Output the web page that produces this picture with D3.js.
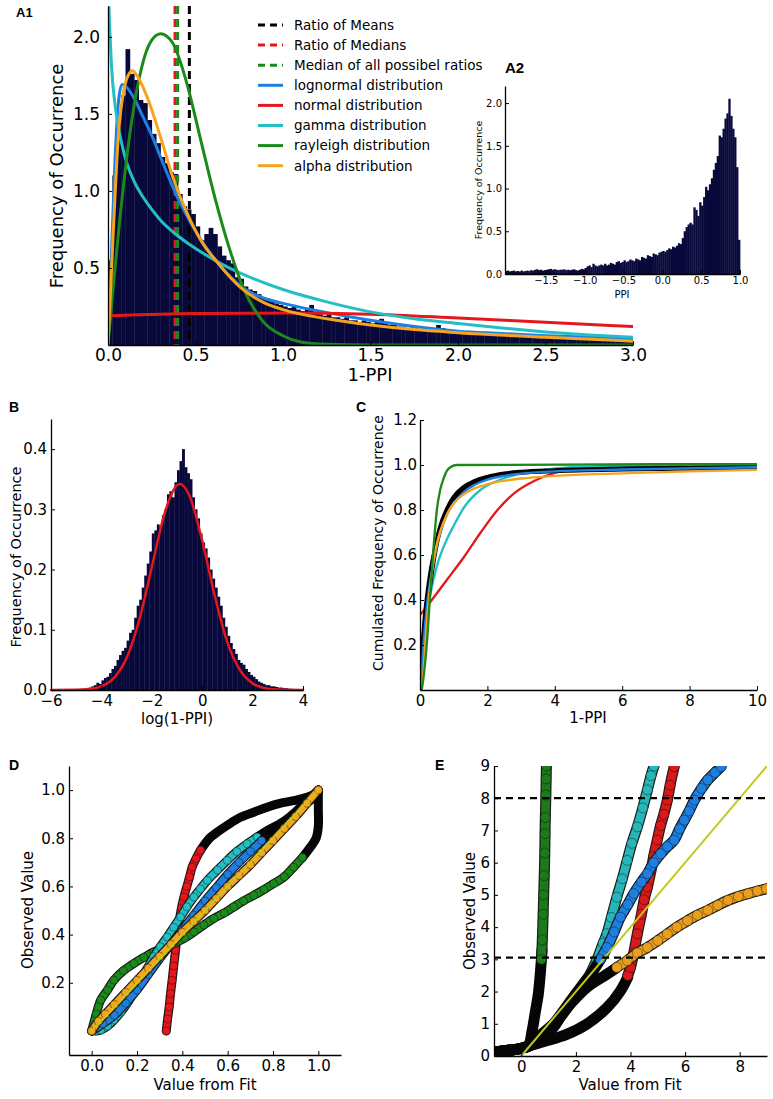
<!DOCTYPE html>
<html>
<head>
<meta charset="utf-8">
<script src="https://cdn.jsdelivr.net/npm/d3@7"></script>
<style>
body{margin:0;background:#fff;}
svg text{font-family:"DejaVu Sans",sans-serif;fill:#000;}
.plabel{font-family:"Liberation Sans",Arial,sans-serif;font-weight:bold;}
</style>
</head>
<body>
<svg id="fig" width="773" height="1099"></svg>
<script>
// ---------- panel A1 : histogram of 1-PPI with fitted pdfs ----------
let a1BinWidth = 0.025;
let a1Hist = [
 0.55,1.1,1.45,1.62,1.92,1.76,1.72,1.59,1.57,1.46,
 1.37,1.31,1.22,1.18,1.12,1.11,0.98,0.9,0.88,0.85,
 0.77,0.68,0.72,0.76,0.72,0.64,0.58,0.55,0.53,0.44,
 0.43,0.38,0.36,0.35,0.33,0.31,0.3,0.29,0.27,0.26,
 0.25,0.24,0.26,0.23,0.22,0.24,0.26,0.21,
 0.2,0.19,0.2,0.18,0.18,0.17,0.18,0.16,
 0.16,0.15,0.16,0.15,0.14,0.16,0.17,0.14,
 0.13,0.13,0.12,0.12,0.11,0.115,0.11,0.1,
 0.1,0.095,0.1,0.13,0.11,0.09,0.085,0.085,
 0.08,0.08,0.075,0.075,0.07,0.07,0.065,0.065,
 0.06,0.065,0.06,0.058,0.072,0.07,0.055,0.055,
 0.05,0.052,0.05,0.048,0.048,0.062,0.065,0.045,
 0.042,0.042,0.04,0.04,0.038,0.04,0.036,0.035,
 0.034,0.035,0.033,0.03,0.03,0.028,0.03,0.027];
let a1Lognormal = [[0,0],[0.02,0.6],[0.04,1.2],[0.06,1.58],[0.08,1.69],[0.1,1.68],[0.15,1.6],[0.2,1.48],[0.25,1.36],[0.3,1.22],[0.35,1.08],[0.4,0.95],[0.45,0.84],[0.5,0.74],[0.6,0.57],[0.7,0.44],[0.8,0.35],[0.9,0.3],[1.0,0.27],[1.25,0.21],[1.5,0.16],[1.75,0.12],[2.0,0.09],[2.25,0.075],[2.5,0.06],[2.75,0.05],[3.0,0.04]];
let a1Normal = [[0.02,0.19],[0.5,0.205],[1.0,0.207],[1.5,0.2],[2.0,0.175],[2.5,0.147],[3.0,0.12]];
let a1Gamma = [[0.002,2.3],[0.01,2.05],[0.02,1.81],[0.04,1.56],[0.06,1.41],[0.08,1.3],[0.1,1.21],[0.15,1.06],[0.2,0.96],[0.25,0.88],[0.3,0.81],[0.37,0.735],[0.45,0.665],[0.55,0.59],[0.65,0.525],[0.8,0.445],[1.0,0.36],[1.25,0.28],[1.5,0.215],[1.75,0.17],[2.0,0.14],[2.25,0.11],[2.5,0.085],[2.75,0.065],[3.0,0.05]];
let a1Rayleigh = [[0,0],[0.03,0.38],[0.06,0.73],[0.12,1.33],[0.18,1.74],[0.24,1.96],[0.3,2.02],[0.37,1.96],[0.45,1.7],[0.53,1.33],[0.61,0.96],[0.69,0.64],[0.77,0.38],[0.88,0.16],[1.0,0.06],[1.1,0.02],[1.25,0.005],[1.5,0],[3.0,0]];
let a1Alpha = [[0,0],[0.03,0.73],[0.06,1.37],[0.09,1.65],[0.12,1.76],[0.14,1.78],[0.17,1.74],[0.22,1.62],[0.3,1.35],[0.37,1.09],[0.45,0.86],[0.53,0.68],[0.63,0.53],[0.76,0.37],[0.9,0.27],[1.0,0.23],[1.25,0.17],[1.5,0.13],[1.75,0.1],[2.0,0.08],[2.5,0.05],[3.0,0.025]];
let a1Ratios = [0.465, 0.383, 0.398];   // means, medians, median of all ratios
let a1Legend = ["Ratio of Means","Ratio of Medians","Median of all possibel ratios","lognormal distribution","normal distribution","gamma distribution","rayleigh distribution","alpha distribution"];
let a1XTicks = [0,0.5,1,1.5,2,2.5,3];
let a1YTicks = [0.5,1,1.5,2];

// ---------- panel A2 : histogram of PPI ----------
let a2BinStart = -2.025, a2BinWidth = 0.025;
let a2Hist = [
 0.035,0.04,0.03,0.035,0.04,0.03,0.035,0.03,0.04,0.03,0.035,0.04,0.035,0.045,0.04,0.05,0.055,0.045,0.05,0.04,
 0.045,0.05,0.055,0.06,0.05,0.055,0.05,0.045,0.05,0.05,0.055,0.045,0.05,0.045,0.05,0.055,0.045,0.04,0.05,0.06,0.055,
 0.07,0.09,0.1,0.08,0.12,0.1,0.09,0.1,0.11,0.1,0.12,0.1,0.11,0.13,0.12,0.11,0.14,0.15,0.13,0.14,
 0.16,0.14,0.15,0.17,0.16,0.15,0.18,0.17,0.16,0.2,0.19,0.18,0.22,0.21,0.2,0.24,0.23,0.22,0.25,0.26,
 0.27,0.26,0.28,0.3,0.29,0.32,0.31,0.33,0.36,0.35,0.42,0.5,0.55,0.58,0.6,0.58,0.78,0.75,0.68,0.84,
 0.8,0.9,1.02,0.98,1.05,1.12,1.22,1.3,1.38,1.62,1.6,1.7,1.82,1.88,2.05,1.85,1.7,1.6,1.25,0.4];
let a2XTicks = [-1.5,-1,-0.5,0,0.5,1];
let a2YTicks = [0,0.5,1,1.5,2];

// ---------- panel B : histogram of log(1-PPI) ----------
let bBinStart = -5.0, bBinWidth = 0.1;
let bHist = [
 0.001,0.001,0.002,0.002,0.003,0.004,0.006,0.008,0.012,0.01,
 0.016,0.02,0.022,0.028,0.035,0.04,0.05,0.058,0.065,0.07,
 0.082,0.095,0.1,0.12,0.14,0.15,0.17,0.19,0.21,0.23,
 0.26,0.265,0.275,0.27,0.29,0.3,0.325,0.33,0.32,0.345,
 0.365,0.38,0.4,0.37,0.36,0.35,0.32,0.3,0.285,0.26,
 0.245,0.235,0.22,0.2,0.185,0.17,0.155,0.14,0.12,0.105,
 0.09,0.078,0.068,0.06,0.05,0.045,0.042,0.035,0.03,0.025,
 0.022,0.018,0.014,0.012,0.01,0.008,0.008,0.006,0.006,0.005,
 0.004,0.004,0.003,0.003,0.002,0.002];
let bNormal = [[-6,0],[-5,0.0003],[-4.5,0.0015],[-4,0.006],[-3.5,0.02],[-3,0.053],[-2.5,0.116],[-2,0.204],[-1.5,0.292],[-1,0.34],[-0.88,0.342],[-0.5,0.322],[0,0.248],[0.5,0.156],[1,0.079],[1.5,0.033],[2,0.011],[2.5,0.003],[3,0.0007],[4,0]];
let bXTicks = [-6,-4,-2,0,2,4];
let bYTicks = [0,0.1,0.2,0.3,0.4];

// ---------- panel C : cumulative distributions ----------
let cEmpirical = [[0,0],[0.05,0.1],[0.1,0.2],[0.2,0.36],[0.3,0.48],[0.4,0.58],[0.5,0.66],[0.6,0.72],[0.8,0.8],[1.0,0.855],[1.3,0.9],[1.6,0.925],[2.0,0.945],[2.5,0.96],[3,0.968],[4,0.975],[6,0.982],[8,0.986],[10,0.988]];
let cHistCum = [[0,0.08],[0.05,0.2],[0.1,0.3],[0.2,0.44],[0.3,0.54],[0.5,0.67],[0.8,0.79],[1.0,0.84],[1.5,0.91],[2,0.94],[3,0.965],[10,0.99]];
let cLognormal = [[0,0],[0.05,0.08],[0.1,0.2],[0.2,0.37],[0.3,0.48],[0.5,0.64],[0.8,0.78],[1.0,0.83],[1.3,0.88],[1.6,0.91],[2,0.935],[2.5,0.952],[3,0.962],[4,0.972],[6,0.98],[10,0.99]];
let cNormal = [[0,0.333],[0.2,0.37],[0.4,0.41],[0.8,0.49],[1.3,0.59],[1.8,0.7],[2.3,0.8],[2.8,0.875],[3.4,0.93],[4,0.965],[4.75,0.985],[5.5,0.995],[7,1.0],[10,1.0]];
let cGamma = [[0,0.02],[0.1,0.22],[0.2,0.33],[0.3,0.42],[0.5,0.55],[0.8,0.67],[1.0,0.73],[1.3,0.81],[1.8,0.89],[2.3,0.93],[2.8,0.955],[3.5,0.975],[4.5,0.99],[6,0.995],[10,1.0]];
let cRayleigh = [[0.05,0],[0.1,0.05],[0.2,0.2],[0.3,0.42],[0.4,0.63],[0.5,0.8],[0.6,0.89],[0.7,0.94],[0.8,0.975],[0.9,0.99],[1.1,1.0],[10,1.004]];
let cAlpha = [[0.05,0],[0.1,0.08],[0.2,0.3],[0.3,0.46],[0.4,0.57],[0.5,0.65],[0.8,0.78],[1.0,0.83],[1.3,0.87],[1.6,0.895],[2,0.915],[2.5,0.93],[3,0.94],[4,0.952],[6,0.963],[8,0.972],[10,0.978]];
let cXTicks = [0,2,4,6,8,10];
let cYTicks = [0.2,0.4,0.6,0.8,1.0,1.2];

// ---------- panel D : QQ plot, full range ----------
let dRayleigh = [[0,0],[0.02,0.07],[0.04,0.128],[0.07,0.17],[0.098,0.211],[0.14,0.25],[0.186,0.28],[0.23,0.305],[0.274,0.328],[0.32,0.345],[0.363,0.363],[0.41,0.385],[0.451,0.411],[0.495,0.44],[0.539,0.467],[0.585,0.49],[0.627,0.515],[0.67,0.54],[0.715,0.563],[0.76,0.587],[0.803,0.612],[0.85,0.64],[0.891,0.68],[0.93,0.72]];
let dRayleighDense = [[0.93,0.72],[0.965,0.763],[0.99,0.8],[1.0,0.85],[1.0,0.92],[1.0,1.0]];
let dNormal = [[0.329,0.0],[0.335,0.05],[0.342,0.1],[0.348,0.155],[0.355,0.21],[0.362,0.27],[0.37,0.335],[0.377,0.4],[0.386,0.455],[0.396,0.51],[0.407,0.556],[0.42,0.6],[0.432,0.64],[0.443,0.68],[0.46,0.715],[0.48,0.75]];
let dNormalDense = [[0.48,0.75],[0.52,0.8],[0.554,0.825],[0.6,0.855],[0.656,0.887],[0.72,0.91],[0.774,0.929],[0.83,0.945],[0.891,0.956],[0.95,0.97],[1.0,0.99]];
let dGamma = [[0,0],[0.02,0.0],[0.04,0.004],[0.07,0.02],[0.098,0.045],[0.13,0.08],[0.157,0.115],[0.186,0.16],[0.216,0.211],[0.245,0.26],[0.274,0.308],[0.303,0.35],[0.333,0.39],[0.362,0.43],[0.392,0.473],[0.42,0.515],[0.451,0.556],[0.48,0.59],[0.51,0.625],[0.555,0.668],[0.598,0.708],[0.64,0.745],[0.686,0.777],[0.73,0.805]];
let dGammaDense = [[0.73,0.805],[0.774,0.832],[0.83,0.86],[0.877,0.887],[0.93,0.93],[0.979,0.97],[1.0,1.0]];
let dLognormal = [[0,0],[0.05,0.03],[0.1,0.065],[0.15,0.115],[0.2,0.17],[0.25,0.235],[0.3,0.3],[0.35,0.36],[0.4,0.42],[0.45,0.48],[0.5,0.54],[0.55,0.595],[0.6,0.65],[0.65,0.7],[0.7,0.745],[0.75,0.79]];
let dLognormalDense = [[0.75,0.79],[0.8,0.83],[0.85,0.87],[0.9,0.91],[0.95,0.955],[1.0,1.0]];
let dAlpha = [[0,0],[0.03,0.04],[0.06,0.07],[0.1,0.11],[0.15,0.16],[0.2,0.21],[0.25,0.26],[0.3,0.31],[0.35,0.36],[0.4,0.41],[0.45,0.455],[0.5,0.5],[0.55,0.55],[0.6,0.6],[0.65,0.645],[0.7,0.69],[0.75,0.74],[0.8,0.79],[0.85,0.84],[0.9,0.89],[0.95,0.945],[1.0,1.0]];
let dAlphaDense = [];
let dIdentity = [[0,0],[1,1]];
let dTicks = [0,0.2,0.4,0.6,0.8,1.0];
let dYTicks = [0.2,0.4,0.6,0.8,1.0];

// ---------- panel E : QQ plot, zoom ----------
let eRayleighDense = [[-1,0.12],[-0.5,0.18],[0,0.24],[0.25,0.3],[0.4,0.8],[0.52,1.4],[0.62,1.9],[0.7,2.6],[0.76,3.3]];
let eRayleigh = [[0.74,3.0],[0.77,3.6],[0.8,4.4],[0.82,5.0],[0.84,5.6],[0.86,6.3],[0.87,6.9],[0.88,7.4],[0.9,8.1],[0.91,8.6],[0.92,9.0]];
let eGammaDense = [[-1,0.12],[0,0.24],[0.3,0.32],[0.7,0.65],[1.17,0.99],[1.9,1.82],[2.5,2.5]];
let eGamma = [[2.5,2.5],[2.75,2.95],[3.0,3.5],[3.14,3.8],[3.3,4.3],[3.5,4.93],[3.7,5.5],[3.88,6.07],[4.05,6.6],[4.25,7.11],[4.45,7.7],[4.62,8.26],[4.75,8.7],[4.86,9.0]];
let eLognormalDense = [[-1,0.12],[0,0.24],[0.3,0.32],[0.7,0.62],[1.2,0.98],[1.9,1.75],[2.6,2.6],[2.9,3.0]];
let eLognormal = [[2.9,3.0],[3.14,3.37],[3.4,3.85],[3.63,4.31],[3.9,4.7],[4.12,5.04],[4.4,5.4],[4.62,5.66],[4.85,6.0],[5.11,6.28],[5.35,6.5],[5.6,6.7],[5.8,7.05],[5.97,7.32],[6.15,7.6],[6.34,7.94],[6.6,8.3],[6.83,8.57],[7.1,8.8],[7.32,8.98]];
let eNormalDense = [[-1,0.12],[0,0.24],[0.3,0.32],[0.92,0.47],[1.66,0.67],[2.4,0.99],[3.14,1.5],[3.63,2.02],[3.9,2.45]];
let eNormal = [[3.9,2.5],[4.0,2.75],[4.12,3.2],[4.25,3.79],[4.4,4.4],[4.5,4.85],[4.62,5.24],[4.75,5.75],[4.85,6.2],[4.98,6.7],[5.1,7.15],[5.22,7.5],[5.35,7.94],[5.45,8.4],[5.6,8.98]];
let eAlphaDense = [[-1,0.12],[0,0.24],[0.3,0.32],[0.7,0.55],[1.17,0.88],[1.5,1.3],[1.9,1.71],[2.4,2.13],[3.14,2.54],[3.5,2.75]];
let eAlpha = [[3.5,2.75],[3.88,2.96],[4.25,3.2],[4.62,3.37],[5.0,3.58],[5.35,3.79],[5.7,4.0],[6.09,4.2],[6.45,4.37],[6.83,4.52],[7.2,4.68],[7.57,4.83],[7.95,4.95],[8.31,5.04],[8.65,5.12],[8.98,5.19]];
let eIdentity = [[0,0],[9,9]];
let eThresholds = [3.05, 8];
let eXTicks = [0,2,4,6,8];
let eYTicks = [0,1,2,3,4,5,6,7,8,9];

// ---------- drawing ----------
let navy = "#08083a";
let cBlue = "#1f7fe0", cRed = "#e4181c", cCyan = "#22bfc4", cGreen = "#1b8a1b", cOrange = "#f6a41f", cYellow = "#c2c81e";

let svg = d3.select("#fig");
let defs = svg.append("defs");

function clip(id, x, y){
    defs.append("clipPath").attr("id", id).append("rect")
        .attr("x", x.range()[0]).attr("y", y.range()[1])
        .attr("width", x.range()[1] - x.range()[0])
        .attr("height", y.range()[0] - y.range()[1]);
    return "url(#" + id + ")";
}

function axes(x, y, o){
    let gx = svg.append("g")
        .attr("transform", "translate(0," + y.range()[0] + ")")
        .call(d3.axisBottom(x).tickValues(o.xt).tickFormat(d3.format(o.xf))
            .tickSizeInner(-4).tickSizeOuter(0).tickPadding(o.px));
    let gy = svg.append("g")
        .attr("transform", "translate(" + x.range()[0] + ",0)")
        .call(d3.axisLeft(y).tickValues(o.yt).tickFormat(d3.format(o.yf))
            .tickSizeInner(-4).tickSizeOuter(0).tickPadding(o.py));
    [gx, gy].forEach(function(a){
        a.selectAll("text").style("font-size", o.fs + "px").style("font-family", "DejaVu Sans");
        a.select(".domain").attr("stroke", "#000").attr("stroke-width", 1.3);
        a.selectAll(".tick line").attr("stroke", "#000");
    });
}

function label(txt, x, y, size, rot){
    let t = svg.append("text").attr("text-anchor", "middle").style("font-size", size + "px").text(txt);
    if (rot) t.attr("transform", "translate(" + x + "," + y + ") rotate(-90)");
    else t.attr("x", x).attr("y", y);
}

function panelLetter(txt, x, y, size){
    svg.append("text").attr("class", "plabel").attr("x", x).attr("y", y)
        .style("font-size", size + "px").text(txt);
}

function curve(g, x, y, data, color, w, kind){
    let line = d3.line().x(function(d){ return x(d[0]); }).y(function(d){ return y(d[1]); })
        .curve(kind || d3.curveMonotoneX);
    g.append("path").datum(data).attr("d", line)
        .attr("fill", "none").attr("stroke", color).attr("stroke-width", w)
        .attr("stroke-linejoin", "round").attr("stroke-linecap", "round");
}

function bars(g, x, y, values, start, width){
    g.selectAll(null).data(values).join("rect")
        .attr("x", function(d, i){ return x(start + i * width); })
        .attr("width", x(start + width) - x(start) + 0.35)
        .attr("y", function(d){ return y(d); })
        .attr("height", function(d){ return y(0) - y(d); })
        .attr("fill", navy);
}

// A1
let xA1 = d3.scaleLinear().domain([0, 3]).range([108, 633]);
let yA1 = d3.scaleLinear().domain([0, 2.2]).range([345, 6]);
let gA1 = svg.append("g").attr("clip-path", clip("cA1", xA1, yA1));
bars(gA1, xA1, yA1, a1Hist, 0, a1BinWidth);
let ratioColors = ["#000", cRed, cGreen];
a1Ratios.forEach(function(v, i){
    gA1.append("line").attr("x1", xA1(v)).attr("x2", xA1(v))
        .attr("y1", yA1(2.2)).attr("y2", yA1(0))
        .attr("stroke", ratioColors[i]).attr("stroke-width", 3).attr("stroke-dasharray", "8,5");
});
curve(gA1, xA1, yA1, a1Lognormal, cBlue, 3);
curve(gA1, xA1, yA1, a1Normal, cRed, 3);
curve(gA1, xA1, yA1, a1Gamma, cCyan, 3);
curve(gA1, xA1, yA1, a1Rayleigh, cGreen, 3);
curve(gA1, xA1, yA1, a1Alpha, cOrange, 3);
axes(xA1, yA1, {xt: a1XTicks, yt: a1YTicks, xf: ".1f", yf: ".1f", fs: 17, px: 4, py: 8});
label("Frequency of Occurrence", 63, 176, 18, true);
label("1-PPI", 370, 381, 18);
panelLetter("A1", 16, 17, 13);

let legendColors = ["#000", cRed, cGreen, cBlue, cRed, cCyan, cGreen, cOrange];
let leg = svg.append("g");
a1Legend.forEach(function(name, i){
    let yy = 25 + i * 20.1;
    leg.append("line").attr("x1", 258).attr("x2", 283).attr("y1", yy).attr("y2", yy)
        .attr("stroke", legendColors[i]).attr("stroke-width", 3)
        .attr("stroke-dasharray", i < 3 ? "7,5" : null);
    leg.append("text").attr("x", 294).attr("y", yy).attr("dy", "0.36em")
        .style("font-size", "13.5px").text(name);
});

// A2
let xA2 = d3.scaleLinear().domain([a2BinStart, 1.0]).range([505, 740]);
let yA2 = d3.scaleLinear().domain([0, 2.2]).range([274, 86]);
let gA2 = svg.append("g");
bars(gA2, xA2, yA2, a2Hist, a2BinStart, a2BinWidth);
axes(xA2, yA2, {xt: a2XTicks, yt: a2YTicks, xf: ".1f", yf: ".1f", fs: 10, px: 3, py: 3});
label("Frequency of Occurrence", 482, 180, 9.5, true);
label("PPI", 622, 298, 10);
panelLetter("A2", 505, 73, 15);

// B
let xB = d3.scaleLinear().domain([-6, 4]).range([51, 303]);
let yB = d3.scaleLinear().domain([0, 0.45]).range([690, 419]);
let gB = svg.append("g");
bars(gB, xB, yB, bHist, bBinStart, bBinWidth);
curve(gB, xB, yB, bNormal, cRed, 2.5);
axes(xB, yB, {xt: bXTicks, yt: bYTicks, xf: "d", yf: ".1f", fs: 15, px: 5, py: 4});
label("Frequency of Occurrence", 21, 557, 14.5, true);
label("log(1-PPI)", 177, 724, 15);
panelLetter("B", 9, 412, 14);

// C
let xC = d3.scaleLinear().domain([0, 10]).range([420, 757]);
let yC = d3.scaleLinear().domain([0, 1.2]).range([690, 420]);
let gC = svg.append("g").attr("clip-path", clip("cC", xC, yC));
curve(gC, xC, yC, cNormal, cRed, 2.3);
curve(gC, xC, yC, cGamma, cCyan, 2.3);
curve(gC, xC, yC, cHistCum, "#0a0a50", 2.3);
curve(gC, xC, yC, cEmpirical, "#000", 5);
curve(gC, xC, yC, cLognormal, cBlue, 2.3);
curve(gC, xC, yC, cAlpha, cOrange, 2.3);
curve(gC, xC, yC, cRayleigh, cGreen, 2.3);
axes(xC, yC, {xt: cXTicks, yt: cYTicks, xf: "d", yf: ".1f", fs: 15, px: 5, py: 3});
label("Cumulated Frequency of Occurrence", 383, 543, 14, true);
label("1-PPI", 588, 723, 15);
panelLetter("C", 356, 412, 14);

// QQ helper
function qq(g, x, y, pts, dense, color, r){
    let line = d3.line().x(function(d){ return x(d[0]); }).y(function(d){ return y(d[1]); })
        .curve(d3.curveCatmullRom);
    if (dense.length) {
        g.append("path").datum(dense).attr("d", line).attr("fill", "none")
            .attr("stroke", "#060606").attr("stroke-width", 2 * r + 1)
            .attr("stroke-linecap", "round").attr("stroke-linejoin", "round");
    }
    g.append("path").datum(pts).attr("d", line).attr("fill", "none")
        .attr("stroke", "#1a1a1a").attr("stroke-width", 2 * r + 1).attr("stroke-linecap", "round");
    g.append("path").datum(pts).attr("d", line).attr("fill", "none")
        .attr("stroke", color).attr("stroke-width", 2 * r - 1.4).attr("stroke-linecap", "round");
    g.selectAll(null).data(pts).join("circle")
        .attr("cx", function(d){ return x(d[0]); }).attr("cy", function(d){ return y(d[1]); })
        .attr("r", r).attr("fill", color)
        .attr("stroke", "rgba(0,0,0,0.55)").attr("stroke-width", 0.7);
}

// D
let xD = d3.scaleLinear().domain([-0.1, 1.1]).range([69, 341]);
let yD = d3.scaleLinear().domain([-0.1, 1.1]).range([1055, 766]);
let gD = svg.append("g").attr("clip-path", clip("cD", xD, yD));
qq(gD, xD, yD, dNormal, dNormalDense, cRed, 4);
qq(gD, xD, yD, dRayleigh, dRayleighDense, cGreen, 4);
qq(gD, xD, yD, dGamma, dGammaDense, cCyan, 4);
qq(gD, xD, yD, dLognormal, dLognormalDense, cBlue, 4);
qq(gD, xD, yD, dAlpha, dAlphaDense, cOrange, 4);
curve(gD, xD, yD, dIdentity, cYellow, 2, d3.curveLinear);
axes(xD, yD, {xt: dTicks, yt: dYTicks, xf: ".1f", yf: ".1f", fs: 15, px: 5, py: 4});
label("Observed Value", 33, 910, 15, true);
label("Value from Fit", 205, 1090, 15);
panelLetter("D", 9, 770, 14);

// E
let xE = d3.scaleLinear().domain([-1, 9]).range([494, 767]);
let yE = d3.scaleLinear().domain([0, 9]).range([1056, 766]);
let gE = svg.append("g").attr("clip-path", clip("cE", xE, yE));
qq(gE, xE, yE, eRayleigh, eRayleighDense, "#1c7a1c", 5);
qq(gE, xE, yE, eNormal, eNormalDense, "#d81a1a", 5);
qq(gE, xE, yE, eGamma, eGammaDense, "#27b5b8", 5);
qq(gE, xE, yE, eLognormal, eLognormalDense, cBlue, 5);
qq(gE, xE, yE, eAlpha, eAlphaDense, "#e99e1e", 5);
curve(gE, xE, yE, eIdentity, cYellow, 2, d3.curveLinear);
eThresholds.forEach(function(v){
    gE.append("line").attr("x1", xE(-1)).attr("x2", xE(9)).attr("y1", yE(v)).attr("y2", yE(v))
        .attr("stroke", "#000").attr("stroke-width", 2.2).attr("stroke-dasharray", "7,5");
});
axes(xE, yE, {xt: eXTicks, yt: eYTicks, xf: "d", yf: "d", fs: 15, px: 5, py: 4});
label("Observed Value", 475, 911, 15, true);
label("Value from Fit", 630, 1090, 15);
panelLetter("E", 435, 770, 14);
</script>
</body>
</html>
